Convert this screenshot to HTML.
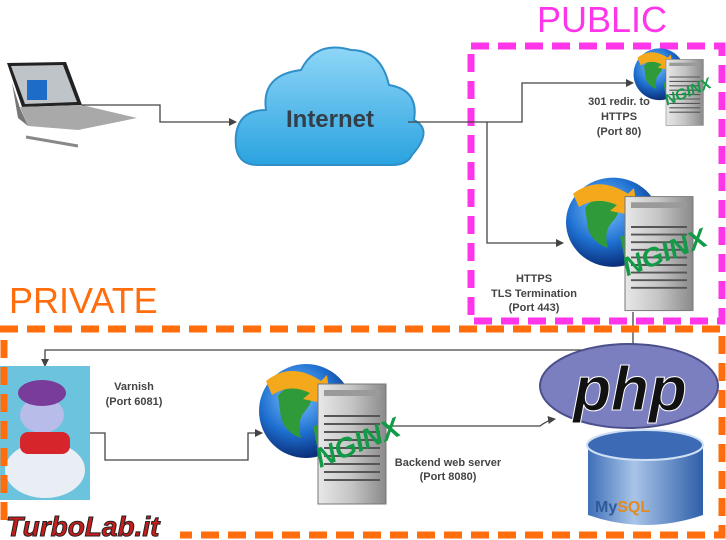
<!DOCTYPE html>
<html><head><meta charset="utf-8"><style>
html,body{margin:0;padding:0;background:#fff;}
svg{display:block;font-family:"Liberation Sans",sans-serif;}
</style></head><body>
<svg width="726" height="540" viewBox="0 0 726 540" xmlns="http://www.w3.org/2000/svg">
<defs>
<radialGradient id="gl" cx="40%" cy="35%" r="65%"><stop offset="0" stop-color="#7fc4ff"/><stop offset="0.6" stop-color="#1e6fd0"/><stop offset="1" stop-color="#0b2f7a"/></radialGradient>
<linearGradient id="sv" x1="0" x2="1"><stop offset="0" stop-color="#e8e8e8"/><stop offset="0.5" stop-color="#c4c4c4"/><stop offset="1" stop-color="#8a8a8a"/></linearGradient>
<linearGradient id="cl" x1="0" y1="0" x2="0" y2="1"><stop offset="0" stop-color="#8fd6f7"/><stop offset="1" stop-color="#2aa3e0"/></linearGradient>
<linearGradient id="cy" x1="0" x2="1"><stop offset="0" stop-color="#3f6fb8"/><stop offset="0.4" stop-color="#a8c4e8"/><stop offset="1" stop-color="#2f5fa8"/></linearGradient>
<marker id="ar" markerWidth="8" markerHeight="8" refX="7" refY="4" orient="auto" markerUnits="userSpaceOnUse"><path d="M0,0 L8,4 L0,8 z" fill="#444"/></marker>
<g id="srv">
 <circle cx="48" cy="55" r="47" fill="url(#gl)"/>
 <path d="M20,40 q10,-15 30,-8 q8,10 -2,22 q-10,10 -5,28 q-15,-5 -20,-20 z M55,70 q15,-5 25,10 q-5,15 -20,15 z" fill="#2e9a3a"/>
 <path d="M8,25 q25,-20 55,0 l6,-6 l4,30 l-28,-6 l7,-6 q-20,-10 -38,2 z" fill="#f4a91c"/>
 <rect x="60" y="28" width="68" height="120" fill="url(#sv)" stroke="#777"/>
 <rect x="66" y="34" width="56" height="6" fill="#9a9a9a"/>
 <g stroke="#555" stroke-width="2"><line x1="66" y1="60" x2="122" y2="60"/><line x1="66" y1="68" x2="122" y2="68"/><line x1="66" y1="76" x2="122" y2="76"/><line x1="66" y1="84" x2="122" y2="84"/><line x1="66" y1="92" x2="122" y2="92"/><line x1="66" y1="100" x2="122" y2="100"/><line x1="66" y1="108" x2="122" y2="108"/><line x1="66" y1="116" x2="122" y2="116"/><line x1="66" y1="124" x2="122" y2="124"/></g>
 <text x="62" y="112" transform="rotate(-22 62 112)" font-size="28" font-weight="bold" fill="#139a47" font-style="italic">NGINX</text>
</g>
</defs>

<text x="537" y="32" font-size="36" fill="#ff35ea">PUBLIC</text>
<text x="9" y="313" font-size="36" fill="#ff6d0c">PRIVATE</text>

<rect x="471" y="46" width="251" height="275" fill="none" stroke="#ff35ea" stroke-width="7" stroke-dasharray="18,9"/>

<!-- laptop -->
<path d="M7,63 L66,62 L82,105 L22,107 z" fill="#222"/>
<path d="M11,66 L63,65 L77,102 L25,104 z" fill="#bfc4c8"/>
<rect x="27" y="80" width="20" height="20" fill="#1d6cc7"/>
<path d="M20,107 L82,105 L137,118 L78,130 L28,126 z" fill="#a9a9a9"/>
<path d="M12,83 L20,108 L28,126 L18,118 z" fill="#777"/>
<path d="M26,137 L78,146" stroke="#888" stroke-width="3"/>

<!-- cloud -->
<path d="M258,165 q-25,0 -22,-30 q3,-25 30,-25 q-5,-35 35,-40 q15,-30 50,-20 q30,0 38,35 q30,5 25,35 q20,10 -2,35 q-5,10 -20,10 z" fill="url(#cl)" stroke="#2f8fc8" stroke-width="2"/>
<text x="330" y="127" font-size="24" font-weight="bold" fill="#333e48" text-anchor="middle">Internet</text>

<g fill="none" stroke="#444" stroke-width="1.3">
<path d="M82,105 H160 V122 H236" marker-end="url(#ar)"/>
<path d="M408,122 H522 V83 H633" marker-end="url(#ar)"/>
<path d="M487,122 V243 H563" marker-end="url(#ar)"/>
<path d="M633,312 V350 H45 V366" marker-end="url(#ar)"/>
<path d="M90,433 H105 V460 H248 V433 H262" marker-end="url(#ar)"/>
<path d="M386,426 H540 Q548,420 555,419" marker-end="url(#ar)"/>
</g>

<use href="#srv" transform="translate(633,44) scale(0.55)"/>
<use href="#srv" transform="translate(565,170) scale(1,0.95)"/>
<use href="#srv" transform="translate(258,356) scale(1,1)"/>

<g font-size="11" font-weight="bold" fill="#444" text-anchor="middle">
<text x="619" y="105">301 redir. to</text><text x="619" y="120">HTTPS</text><text x="619" y="135">(Port 80)</text>
<text x="534" y="282">HTTPS</text><text x="534" y="297">TLS Termination</text><text x="534" y="311">(Port 443)</text>
<text x="134" y="390">Varnish</text><text x="134" y="405">(Port 6081)</text>
<text x="448" y="466">Backend web server</text><text x="448" y="480">(Port 8080)</text>
</g>

<!-- varnish -->
<rect x="0" y="366" width="90" height="134" fill="#6cc3dd"/>
<ellipse cx="45" cy="470" rx="40" ry="28" fill="#e8eef4"/>
<ellipse cx="42" cy="415" rx="22" ry="18" fill="#b7bde8"/>
<ellipse cx="42" cy="393" rx="24" ry="13" fill="#7a3c9a"/>
<rect x="20" y="432" width="50" height="22" rx="8" fill="#d7262b"/>

<path d="M0,329 H722 V535 H180 M4,340 V520" fill="none" stroke="#ff6d0c" stroke-width="7" stroke-dasharray="18,9"/>

<!-- php + mysql -->
<ellipse cx="629" cy="386" rx="89" ry="42" fill="#7b7fc0" stroke="#4b4f8a" stroke-width="2"/>
<text x="630" y="410" font-size="62" font-weight="bold" font-style="italic" fill="#111" text-anchor="middle" stroke="#fff" stroke-width="1">php</text>
<path d="M588,445 V515 Q645,535 703,515 V445 z" fill="url(#cy)"/>
<ellipse cx="645" cy="445" rx="58" ry="15" fill="#3d6ab4" stroke="#cfe0f5" stroke-width="2"/>
<text x="595" y="512" font-size="16" font-weight="bold" fill="#2d5a9a">My<tspan fill="#e48a1e">SQL</tspan></text>

<text x="6" y="536" font-size="28" font-weight="bold" font-style="italic" fill="#c81d1d" stroke="#222" stroke-width="1">TurboLab.it</text>
</svg>
</body></html>
